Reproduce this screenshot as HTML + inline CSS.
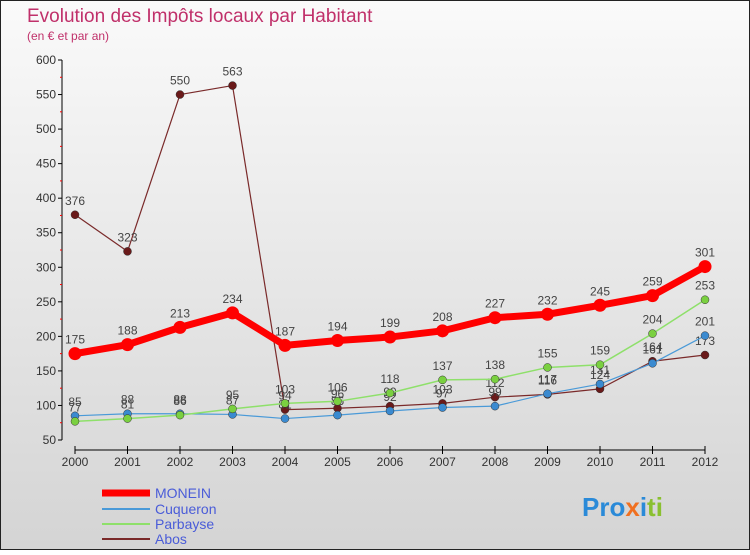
<!DOCTYPE html>
<html><head><meta charset="utf-8"><style>
body{margin:0;width:750px;height:550px;overflow:hidden;font-family:"Liberation Sans",sans-serif}
</style></head><body>
<svg width="750" height="550" xmlns="http://www.w3.org/2000/svg">
<defs><linearGradient id="bg" x1="0" y1="0" x2="0" y2="1"><stop offset="0" stop-color="#fafafa"/><stop offset="1" stop-color="#d4d4d4"/></linearGradient></defs>
<rect x="0.5" y="0.5" width="749" height="549" fill="url(#bg)" stroke="#222"/>
<text x="27" y="22" font-size="19" fill="#c0306a">Evolution des Impôts locaux par Habitant</text>
<text x="27" y="40" font-size="12" fill="#c0306a">(en € et par an)</text>
<g id="axes"></g><g id="series"></g>
<g font-size="14" fill="#4a5cd8">
<line x1="102" y1="493" x2="150" y2="493" stroke="#f00" stroke-width="7"/>
<text x="155" y="498">MONEIN</text>
<line x1="102" y1="509" x2="150" y2="509" stroke="#4a9ad8" stroke-width="2"/>
<text x="155" y="514">Cuqueron</text>
<line x1="102" y1="524" x2="150" y2="524" stroke="#8ee06a" stroke-width="2"/>
<text x="155" y="529">Parbayse</text>
<line x1="102" y1="539" x2="150" y2="539" stroke="#7a2a2a" stroke-width="2"/>
<text x="155" y="544">Abos</text>
</g>
<text x="582" y="516" font-size="26" font-weight="bold"><tspan fill="#2a8ad8">Pro</tspan><tspan fill="#f07020">x</tspan><tspan fill="#2a8ad8">i</tspan><tspan fill="#8ac030">ti</tspan></text>
</svg>
<script>
const years=["2000","2001","2002","2003","2004","2005","2006","2007","2008","2009","2010","2011","2012"];
const yTicks=[50,100,150,200,250,300,350,400,450,500,550,600];
const monein=[175,188,213,234,187,194,199,208,227,232,245,259,301];
const cuqueron=[85,88,88,87,81,86,92,97,99,117,131,161,201];
const parbayse=[77,81,86,95,103,106,118,137,138,155,159,204,253];
const abos=[376,323,550,563,94,96,99,103,112,116,124,164,173];
const NS="http://www.w3.org/2000/svg";
const X=i=>75+i*52.5, Y=v=>440-(v-50)*380/550;
function mk(t,a,p){const e=document.createElementNS(NS,t);for(const k in a)e.setAttribute(k,a[k]);p.appendChild(e);return e;}
const ax=document.getElementById('axes');
const yl=mk('line',{x1:62,y1:60,x2:62,y2:440,stroke:'#000'},ax);


yTicks.forEach(v=>{mk('line',{x1:58,y1:Y(v),x2:62,y2:Y(v),stroke:'#000'},ax);
 const t=mk('text',{x:56,y:Y(v)+4,'text-anchor':'end','font-size':12,fill:'#333'},ax);t.textContent=v;
 
 
 if(v<600)mk('line',{x1:60,y1:Y(v+25),x2:62,y2:Y(v+25),stroke:'#f00'},ax);});
const xl=mk('line',{x1:75,y1:450,x2:705,y2:450,stroke:'#000'},ax);


years.forEach((y,i)=>{mk('line',{x1:X(i),y1:446,x2:X(i),y2:454,stroke:'#000'},ax);
 const t=mk('text',{x:X(i),y:466,'text-anchor':'middle','font-size':12,fill:'#333'},ax);t.textContent=y;
 
 });
const sg=document.getElementById('series');
function draw(data,name,col,w,r,dot){
 const g=mk('g',{},sg);
 
 
 mk('polyline',{points:data.map((v,i)=>X(i)+','+Y(v)).join(' '),fill:'none',stroke:col,'stroke-width':w,'stroke-linejoin':'round'},g);
 data.forEach((v,i)=>{const c=mk('circle',{cx:X(i),cy:Y(v),r:r,fill:dot,stroke:w>3?col:'#333','stroke-width':w>3?0:0.5},g);
  
  
  const t=mk('text',{x:X(i),y:Y(v)-10,'text-anchor':'middle','font-size':12,fill:'#444'},g);t.textContent=v;
  
  });
}
draw(abos,'abos','#7a2a2a',1.2,4,'#6a1a1a');
draw(cuqueron,'cuqueron','#4a9ad8',1.2,4,'#3a8ad0');
draw(parbayse,'parbayse','#8ee06a',1.5,4,'#7ad040');
draw(monein,'monein','#f00',7,6.5,'#f00');
</script>
</body></html>
